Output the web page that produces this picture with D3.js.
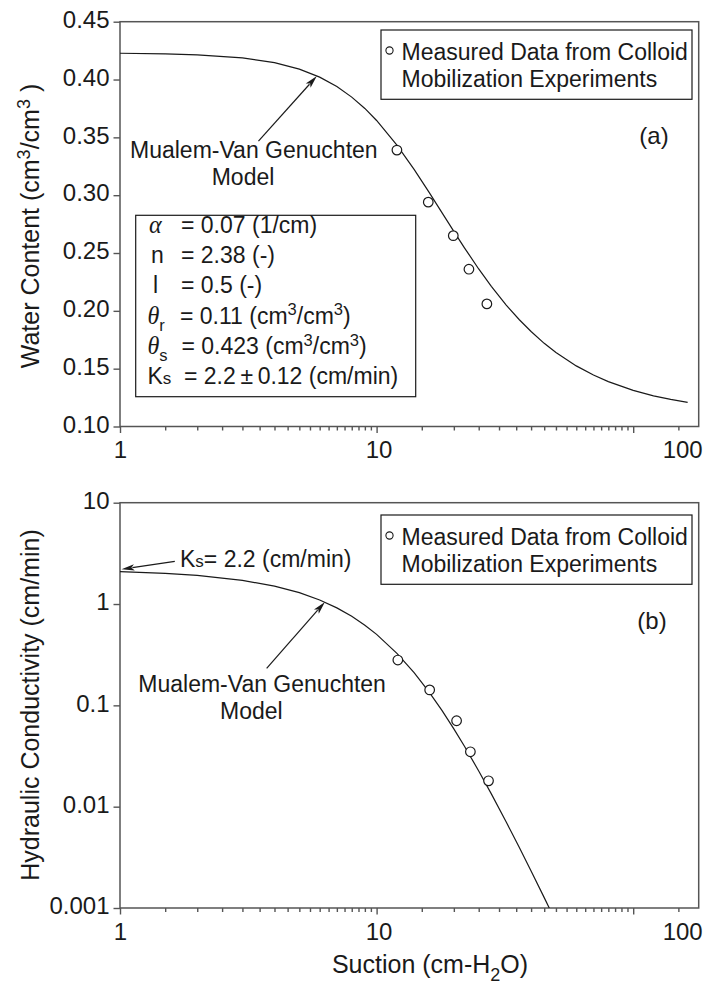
<!DOCTYPE html>
<html>
<head>
<meta charset="utf-8">
<script src="https://cdn.jsdelivr.net/npm/d3@7"></script>
<style>
  body { margin: 0; background: #fff; }
  svg { display: block; font-family: "Liberation Sans", Arial, sans-serif; }
</style>
</head>
<body>
<svg id="chart" width="708" height="983"></svg>
<script>
// ---- Measured data from colloid mobilization experiments ----
const measuredSuctionA = [12.0, 15.9, 19.9, 22.9, 26.9];
const measuredTheta    = [0.339, 0.294, 0.265, 0.236, 0.206];
const measuredSuctionB = [12.1, 16.1, 20.5, 23.2, 27.3];
const measuredK        = [0.280, 0.142, 0.0705, 0.0348, 0.0180];

// ---- Mualem-Van Genuchten model curves ----
const modelSuctionA = [1, 1.5, 2, 3, 4, 5, 6, 7, 8, 9, 10, 12, 14, 16, 18, 20, 22, 25, 28, 32, 36, 40, 45, 50, 60, 70, 80, 100, 120, 140, 163];
const modelTheta    = [0.4227, 0.4222, 0.4213, 0.4187, 0.4146, 0.4090, 0.4021, 0.3939, 0.3848, 0.3750, 0.3646, 0.3433, 0.3223, 0.3027, 0.2847, 0.2687, 0.2545, 0.2362, 0.2212, 0.2050, 0.1923, 0.1821, 0.1719, 0.1640, 0.1524, 0.1445, 0.1388, 0.1312, 0.1265, 0.1234, 0.1209];
const modelSuctionB = [1, 1.5, 2, 3, 4, 5, 6, 7, 8, 9, 10, 12, 14, 16, 18, 20, 22, 25, 28, 32, 36, 40, 45, 48];
const modelK        = [2.088, 2.006, 1.914, 1.713, 1.502, 1.294, 1.096, 0.9156, 0.7559, 0.6180, 0.5015, 0.3256, 0.2099, 0.1356, 0.08855, 0.05864, 0.03948, 0.02253, 0.01338, 0.007056, 0.003947, 0.002317, 0.001266, 0.000904];

// ---- Axis ticks ----
const suctionTicks      = [1, 10, 100];
const suctionTickLabels = ["1", "10", "100"];
const suctionMinorTicks = [1.5, 2, 2.5, 3, 3.5, 4, 4.5, 5, 5.5, 6, 6.5, 7, 7.5, 8, 8.5, 9, 9.5,
                           15, 20, 25, 30, 35, 40, 45, 50, 55, 60, 65, 70, 75, 80, 85, 90, 95, 150];
const thetaTicks      = [0.10, 0.15, 0.20, 0.25, 0.30, 0.35, 0.40, 0.45];
const kTicks          = [0.001, 0.01, 0.1, 1, 10];
const kTickLabels     = ["0.001", "0.01", "0.1", "1", "10"];

// ---- Fitted parameters ----
const paramSymbols = [
  [{ t: "\u03B1", greek: true }],
  [{ t: "n" }],
  [{ t: "l" }],
  [{ t: "\u03B8", greek: true }, { t: "r", sub: true }],
  [{ t: "\u03B8", greek: true }, { t: "s", sub: true }],
  [{ t: "K" }, { t: "s", small: true }]
];
const paramValues = [
  [{ t: "= 0.07 (1/cm)" }],
  [{ t: "= 2.38 (-)" }],
  [{ t: "= 0.5 (-)" }],
  [{ t: "= 0.11 (cm" }, { t: "3", sup: true }, { t: "/cm" }, { t: "3", sup: true }, { t: ")" }],
  [{ t: "= 0.423 (cm" }, { t: "3", sup: true }, { t: "/cm" }, { t: "3", sup: true }, { t: ")" }],
  [{ t: "= 2.2\u2009\u00B1\u20090.12 (cm/min)" }]
];

const FS = 23;        // annotation / legend text
const TICK_FS = 24;   // tick labels
const TITLE_FS = 25;  // axis titles
const INK = "#1a1a1a";
const AXIS = "#555";
const svg = d3.select("#chart");

const x  = d3.scaleLog().domain([1, 180]).range([120, 698.7]);
const yA = d3.scaleLinear().domain([0.10, 0.45]).range([426.5, 21.7]);
const yB = d3.scaleLog().domain([0.001, 10]).range([908, 502.7]);

// text with sub/superscript runs
function rich(parent, px, py, segs, opts = {}) {
  const fs = opts.fs || FS;
  const t = parent.append("text").attr("x", px).attr("y", py)
    .attr("font-size", fs).attr("fill", INK);
  if (opts.anchor) t.attr("text-anchor", opts.anchor);
  if (opts.transform) t.attr("transform", opts.transform);
  let shift = 0;
  segs.forEach(s => {
    const target = s.sup ? -0.36 * fs : s.sub ? 0.3 * fs : 0;
    const sp = t.append("tspan").attr("dy", target - shift).text(s.t);
    if (s.sup || s.sub) sp.attr("font-size", fs * 0.72);
    if (s.small) sp.attr("font-size", fs * 0.74);
    if (s.greek) sp.attr("font-style", "italic").attr("font-family", "'Liberation Serif', 'DejaVu Serif', serif").attr("font-size", fs * 1.05);
    shift = target;
  });
  return t;
}

function arrow(parent, x1, y1, x2, y2) {
  const len = 13, half = 3.2;
  const ang = Math.atan2(y2 - y1, x2 - x1);
  const bx = x2 - len * Math.cos(ang), by = y2 - len * Math.sin(ang);
  parent.append("line").attr("x1", x1).attr("y1", y1).attr("x2", bx + 2 * Math.cos(ang)).attr("y2", by + 2 * Math.sin(ang))
    .attr("stroke", INK).attr("stroke-width", 1.2);
  const nx = -Math.sin(ang), ny = Math.cos(ang);
  parent.append("path")
    .attr("d", `M${x2},${y2} L${bx + half * nx},${by + half * ny} L${bx + 3 * Math.cos(ang)},${by + 3 * Math.sin(ang)} L${bx - half * nx},${by - half * ny} Z`)
    .attr("fill", INK);
}

function panel(y, yTicks, yFormat, top, bottom, id) {
  const g = svg.append("g");
  svg.append("clipPath").attr("id", id).append("rect")
    .attr("x", 120).attr("y", top).attr("width", 698.7 - 120).attr("height", bottom - top);

  // x axis major + minor
  const xMajor = g.append("g").attr("transform", `translate(0,${bottom})`)
    .call(d3.axisBottom(x).tickValues(suctionTicks).tickSize(6.5).tickPadding(8)
      .tickFormat((d, i) => suctionTickLabels[i]));
  const xMinor = g.append("g").attr("transform", `translate(0,${bottom})`)
    .call(d3.axisBottom(x).tickValues(suctionMinorTicks).tickSize(4).tickFormat(""));
  // y axis
  const yAx = g.append("g").attr("transform", "translate(120,0)")
    .call(d3.axisLeft(y).tickValues(yTicks).tickSize(6.5).tickPadding(4).tickFormat(yFormat));

  [xMajor, xMinor, yAx].forEach(a => {
    a.select(".domain").remove();
    a.selectAll("line").attr("stroke", AXIS).attr("stroke-width", 1.4);
    a.selectAll("text").attr("font-size", TICK_FS).attr("fill", INK)
      .attr("font-family", "'Liberation Sans', Arial, sans-serif");
  });
  yAx.selectAll("text").attr("dy", "0.24em");
  // last suction label sits to the right of its tick
  xMajor.selectAll("text").filter(d => d === 100).attr("dx", 49);
  xMajor.selectAll("text").filter(d => d === 10).attr("dx", 2);

  // frame
  g.append("rect").attr("x", 120).attr("y", top).attr("width", 698.7 - 120).attr("height", bottom - top)
    .attr("fill", "none").attr("stroke", AXIS).attr("stroke-width", 1.5);
  return g;
}

// ================= Panel (a): water retention =================
const gA = panel(yA, thetaTicks, d3.format(".2f"), 21.7, 426.5, "clipA");

gA.append("path")
  .datum(modelSuctionA.map((h, i) => [h, modelTheta[i]]))
  .attr("clip-path", "url(#clipA)")
  .attr("d", d3.line().x(d => x(d[0])).y(d => yA(d[1])))
  .attr("fill", "none").attr("stroke", INK).attr("stroke-width", 1.2);

gA.selectAll("circle.pt")
  .data(measuredSuctionA.map((h, i) => [h, measuredTheta[i]]))
  .join("circle").attr("class", "pt")
  .attr("cx", d => x(d[0])).attr("cy", d => yA(d[1])).attr("r", 4.8)
  .attr("fill", "#fff").attr("stroke", INK).attr("stroke-width", 1.2);

// legend
function legend(g, top) {
  g.append("rect").attr("x", 381).attr("y", top).attr("width", 311).attr("height", 69.3)
    .attr("fill", "#fff").attr("stroke", INK).attr("stroke-width", 1.2);
  g.append("circle").attr("cx", 389.5).attr("cy", top + 20.5).attr("r", 3.6)
    .attr("fill", "#fff").attr("stroke", INK).attr("stroke-width", 1.1);
  rich(g, 401.5, top + 30, [{ t: "Measured Data from Colloid" }]);
  rich(g, 401.5, top + 56.5, [{ t: "Mobilization Experiments" }]);
}
legend(gA, 30);

rich(gA, 654, 143.5, [{ t: "(a)" }], { anchor: "middle", fs: 24 });

// model annotation
const headA = [x(5.85), yA(0.403)];
arrow(gA, headA[0] - 58.4, headA[1] + 65, headA[0], headA[1]);
rich(gA, 130, 158, [{ t: "Mualem-Van Genuchten" }]);
rich(gA, 211.7, 185, [{ t: "Model" }]);

// parameter box
gA.append("rect").attr("x", 135.7).attr("y", 215.3).attr("width", 280).attr("height", 181.4)
  .attr("fill", "#fff").attr("stroke", INK).attr("stroke-width", 1.2);
const symX = [149, 151, 153, 147.5, 147.5, 147.5];
const eqX  = [181, 181, 181, 180, 181.5, 184];
paramSymbols.forEach((segs, i) => {
  const by = 233 + i * 30.2;
  rich(gA, symX[i], by, segs);
  rich(gA, eqX[i], by, paramValues[i]);
});

// ================= Panel (b): hydraulic conductivity =================
const gB = panel(yB, kTicks, (d, i) => kTickLabels[i], 502.7, 908, "clipB");

gB.append("path")
  .datum(modelSuctionB.map((h, i) => [h, modelK[i]]))
  .attr("clip-path", "url(#clipB)")
  .attr("d", d3.line().x(d => x(d[0])).y(d => yB(d[1])))
  .attr("fill", "none").attr("stroke", INK).attr("stroke-width", 1.2);

gB.selectAll("circle.pt")
  .data(measuredSuctionB.map((h, i) => [h, measuredK[i]]))
  .join("circle").attr("class", "pt")
  .attr("cx", d => x(d[0])).attr("cy", d => yB(d[1])).attr("r", 4.8)
  .attr("fill", "#fff").attr("stroke", INK).attr("stroke-width", 1.2);

legend(gB, 515);
rich(gB, 652, 629, [{ t: "(b)" }], { anchor: "middle", fs: 24 });

// Ks annotation
const headKs = [x(1) + 1.5, yB(2.2)];
arrow(gB, headKs[0] + 53.3, headKs[1] - 8, headKs[0], headKs[1]);
rich(gB, 180, 567, [{ t: "K" }, { t: "s", small: true }, { t: "= 2.2 (cm/min)" }]);

// model annotation
const headB = [x(6.29), yB(1.05)];
arrow(gB, headB[0] - 58.3, headB[1] + 66.6, headB[0], headB[1]);
rich(gB, 138.3, 691.5, [{ t: "Mualem-Van Genuchten" }]);
rich(gB, 220, 718.5, [{ t: "Model" }]);

// ================= Axis titles =================
rich(svg, 0, 0, [{ t: "Water Content (cm" }, { t: "3", sup: true }, { t: "/cm" }, { t: "3", sup: true }, { t: " )" }],
  { anchor: "middle", fs: TITLE_FS, transform: "translate(39,226) rotate(-90)" });
rich(svg, 0, 0, [{ t: "Hydraulic Conductivity (cm/min)" }],
  { anchor: "middle", fs: TITLE_FS, transform: "translate(39,705) rotate(-90)" });
rich(svg, 430, 973, [{ t: "Suction (cm-H" }, { t: "2", sub: true }, { t: "O)" }], { anchor: "middle", fs: TITLE_FS });
</script>
</body>
</html>
